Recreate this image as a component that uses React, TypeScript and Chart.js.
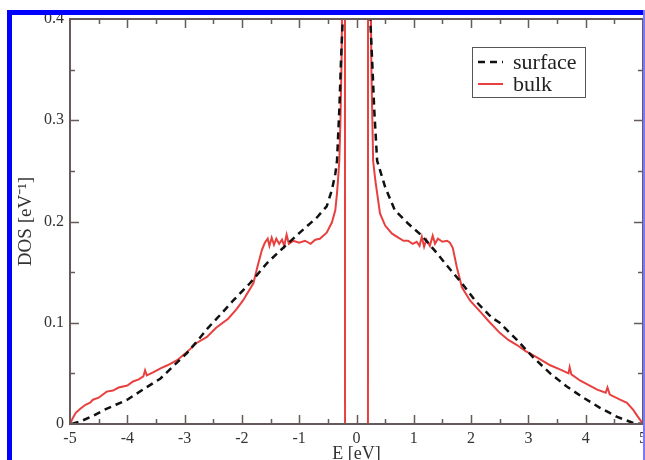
import { useEffect, useRef } from "react";
import { Chart, registerables } from "chart.js";

Chart.register(...registerables);

// ---- data ----
const bulkE = [
  -5, -4.95, -4.9, -4.82, -4.73, -4.65, -4.6, -4.5, -4.36, -4.25, -4.15, -4.0, -3.9, -3.8, -3.72, -3.69, -3.66,
  -3.55, -3.42, -3.3, -3.13, -2.96, -2.79, -2.61, -2.45, -2.24, -2.1, -1.98, -1.8, -1.73, -1.65, -1.6, -1.55,
  -1.52, -1.48, -1.44, -1.4, -1.35, -1.3, -1.26, -1.22, -1.18, -1.1, -1.0, -0.9, -0.8, -0.72, -0.64, -0.52,
  -0.43, -0.37, -0.34, -0.32, -0.3, -0.28, -0.26, -0.245, -0.225, -0.205, -0.2,
  0.2, 0.205, 0.225, 0.245, 0.26, 0.29, 0.33, 0.36, 0.41, 0.5, 0.62, 0.73, 0.82, 0.9, 0.98, 1.05, 1.1, 1.14,
  1.18, 1.22, 1.28, 1.33, 1.37, 1.42, 1.5, 1.58, 1.63, 1.68, 1.75, 1.84, 1.98, 2.19, 2.3, 2.5, 2.65, 2.8, 2.95,
  3.08, 3.2, 3.38, 3.55, 3.7, 3.72, 3.75, 3.9, 4.07, 4.2, 4.35, 4.38, 4.42, 4.6, 4.72, 4.83, 4.9, 4.95, 5,
];
const bulkDOS = [
  0, 0.006, 0.011, 0.015, 0.019, 0.021, 0.024, 0.026, 0.032, 0.033, 0.036, 0.038, 0.042, 0.044, 0.047, 0.053, 0.048,
  0.051, 0.055, 0.058, 0.063, 0.071, 0.08, 0.086, 0.095, 0.104, 0.113, 0.122, 0.139, 0.155, 0.172, 0.179, 0.183,
  0.176, 0.184, 0.177, 0.183, 0.178, 0.182, 0.176, 0.187, 0.178, 0.181, 0.179, 0.181, 0.178, 0.182, 0.183, 0.189,
  0.199, 0.211, 0.228, 0.243, 0.26, 0.3, 0.36, 0.45, 0.8, 1.5, 0,
  0, 1.5, 0.8, 0.45, 0.35, 0.26, 0.24, 0.228, 0.208, 0.196, 0.188, 0.184, 0.181, 0.181, 0.178, 0.18, 0.176, 0.185,
  0.175, 0.182, 0.176, 0.186, 0.178, 0.183, 0.18, 0.181, 0.179, 0.174, 0.155, 0.135, 0.122, 0.109, 0.102, 0.09,
  0.083, 0.078, 0.072, 0.068, 0.064, 0.058, 0.054, 0.05, 0.056, 0.049, 0.043, 0.038, 0.034, 0.031, 0.036, 0.029,
  0.024, 0.021, 0.014, 0.008, 0.004, 0,
];

const surfaceE = [
  -4.97, -4.8, -4.6, -4.4, -4.2, -4.0, -3.7, -3.42, -3.2, -2.96, -2.75, -2.59, -2.44, -2.15, -1.86, -1.56, -1.28,
  -0.99, -0.69, -0.52, -0.43, -0.37, -0.34, -0.3, -0.27, -0.24, -0.21, 0, 0.21, 0.24, 0.28, 0.31, 0.36, 0.5,
  0.67, 0.9, 1.14, 1.37, 1.6, 1.84, 2.07, 2.36, 2.5, 2.8, 3.08, 3.38, 3.67, 3.96, 4.25, 4.55, 4.83, 4.97,
];
const surfaceDOS = [
  0, 0.003, 0.008, 0.014, 0.019, 0.024, 0.035, 0.045, 0.057, 0.07, 0.084, 0.095, 0.104, 0.122, 0.139, 0.159, 0.174,
  0.189, 0.204, 0.215, 0.231, 0.247, 0.26, 0.31, 0.36, 0.4, 0.5, null, 0.5, 0.4, 0.35, 0.31, 0.26, 0.234,
  0.211, 0.198, 0.186, 0.171, 0.155, 0.139, 0.122, 0.105, 0.1, 0.083, 0.066, 0.05, 0.037, 0.026, 0.016, 0.007,
  0.001, 0,
];

const seriesLabels = ["surface", "bulk"];
const xRange = [-5, 5];
const yRange = [0, 0.4];
const xMajorStep = 1;
const xMinorStep = 0.5;
const yMajorStep = 0.1;
const yMinorStep = 0.05;
const xTitle = "E [eV]";
const yTitle = "DOS [eV\u207B\u00B9]";

// ---- styles ----
const SERIF = "'Liberation Serif', 'Times New Roman', serif";
const AXIS_COLOR = "#665a5a";
const TEXT_COLOR = "#333333";
const RED = "#e8403f";
const BLACK = "#111111";

const framePlugin = {
  id: "frame",
  afterDatasetsDraw(chart: any) {
    const { ctx, chartArea: a, scales } = chart;
    const xs = scales.x;
    const ys = scales.y;
    ctx.save();
    ctx.strokeStyle = AXIS_COLOR;
    ctx.lineWidth = 2;
    ctx.strokeRect(a.left, a.top, a.right - a.left, a.bottom - a.top);
    ctx.lineWidth = 1.5;
    ctx.beginPath();
    const nx = Math.round((xRange[1] - xRange[0]) / xMinorStep);
    for (let i = 1; i < nx; i++) {
      const v = xRange[0] + i * xMinorStep;
      const px = Math.round(xs.getPixelForValue(v)) + 0.5;
      const major = Math.abs(v / xMajorStep - Math.round(v / xMajorStep)) < 1e-6;
      const len = major ? 9 : 5;
      ctx.moveTo(px, a.bottom);
      ctx.lineTo(px, a.bottom - len);
      ctx.moveTo(px, a.top);
      ctx.lineTo(px, a.top + len);
    }
    const ny = Math.round((yRange[1] - yRange[0]) / yMinorStep);
    for (let i = 1; i < ny; i++) {
      const v = yRange[0] + i * yMinorStep;
      const py = Math.round(ys.getPixelForValue(v)) + 0.5;
      const major = Math.abs(v / yMajorStep - Math.round(v / yMajorStep)) < 1e-6;
      const len = major ? 9 : 5;
      ctx.moveTo(a.left, py);
      ctx.lineTo(a.left + len, py);
      ctx.moveTo(a.right, py);
      ctx.lineTo(a.right - len, py);
    }
    ctx.stroke();
    ctx.restore();
  },
};

const legendPlugin = {
  id: "boxLegend",
  afterDraw(chart: any) {
    const { ctx } = chart;
    const bx = 472, by = 47, bw = 113, bh = 50;
    ctx.save();
    ctx.fillStyle = "#ffffff";
    ctx.fillRect(bx, by, bw, bh);
    ctx.strokeStyle = "#555555";
    ctx.lineWidth = 1;
    ctx.strokeRect(bx + 0.5, by + 0.5, bw, bh);
    chart.data.datasets.forEach((ds: any, i: number) => {
      const ly = by + 15 + i * 22;
      ctx.strokeStyle = ds.borderColor;
      ctx.lineWidth = ds.borderWidth;
      ctx.setLineDash(ds.borderDash || []);
      ctx.beginPath();
      ctx.moveTo(bx + 6, ly);
      ctx.lineTo(bx + 31, ly);
      ctx.stroke();
      ctx.setLineDash([]);
      ctx.fillStyle = "#222222";
      ctx.font = `22px ${SERIF}`;
      ctx.textBaseline = "alphabetic";
      ctx.textAlign = "left";
      ctx.fillText(ds.label, bx + 41, ly + 7);
    });
    ctx.restore();
  },
};

const bluePlugin = {
  id: "blueFrame",
  afterDraw(chart: any) {
    const { ctx } = chart;
    ctx.save();
    ctx.fillStyle = "#0000ff";
    ctx.fillRect(7, 10, 700, 5);
    ctx.fillRect(7, 10, 5, 500);
    ctx.fillStyle = "#7a7aff";
    ctx.fillRect(643, 10, 2, 500);
    ctx.restore();
  },
};

export default function App() {
  const ref = useRef<HTMLCanvasElement | null>(null);

  useEffect(() => {
    if (!ref.current) return;
    const chart = new Chart(ref.current, {
      type: "line",
      data: {
        datasets: [
          {
            label: seriesLabels[0],
            data: surfaceE.map((e, i) => ({ x: e, y: surfaceDOS[i] })) as any,
            borderColor: BLACK,
            borderWidth: 2.5,
            borderDash: [7, 5],
            pointRadius: 0,
            tension: 0,
            spanGaps: false,
          },
          {
            label: seriesLabels[1],
            data: bulkE.map((e, i) => ({ x: e, y: bulkDOS[i] })) as any,
            borderColor: RED,
            borderWidth: 2,
            pointRadius: 0,
            tension: 0,
          },
        ],
      },
      options: {
        animation: false,
        responsive: false,
        devicePixelRatio: 1,
        layout: { padding: { left: 0, top: 19, right: 37, bottom: 11 } },
        plugins: { legend: { display: false }, tooltip: { enabled: false } },
        scales: {
          x: {
            type: "linear",
            min: xRange[0],
            max: xRange[1],
            afterFit: (s: any) => {
              s.height = 45;
            },
            grid: { display: false, drawTicks: false },
            border: { display: false },
            ticks: {
              stepSize: xMajorStep,
              padding: 5,
              color: TEXT_COLOR,
              font: { family: SERIF, size: 16 },
              maxRotation: 0,
            },
            title: {
              display: true,
              text: xTitle,
              color: TEXT_COLOR,
              font: { family: SERIF, size: 18 },
              padding: { top: 0, bottom: 4 },
            },
          },
          y: {
            type: "linear",
            min: yRange[0],
            max: yRange[1],
            afterFit: (s: any) => {
              s.width = 70;
            },
            grid: { display: false, drawTicks: false },
            border: { display: false },
            ticks: {
              stepSize: yMajorStep,
              padding: 6,
              color: TEXT_COLOR,
              font: { family: SERIF, size: 16 },
            },
            title: {
              display: true,
              text: yTitle,
              color: TEXT_COLOR,
              font: { family: SERIF, size: 19 },
              padding: { top: 15, bottom: 0 },
            },
          },
        },
      },
      plugins: [framePlugin, legendPlugin, bluePlugin],
    });
    return () => chart.destroy();
  }, []);

  return (
    <div
      style={{
        position: "fixed",
        left: 0,
        top: 0,
        width: 645,
        height: 460,
        overflow: "hidden",
        background: "#ffffff",
      }}
    >
      <canvas ref={ref} width={680} height={480} style={{ display: "block" }} />
    </div>
  );
}
